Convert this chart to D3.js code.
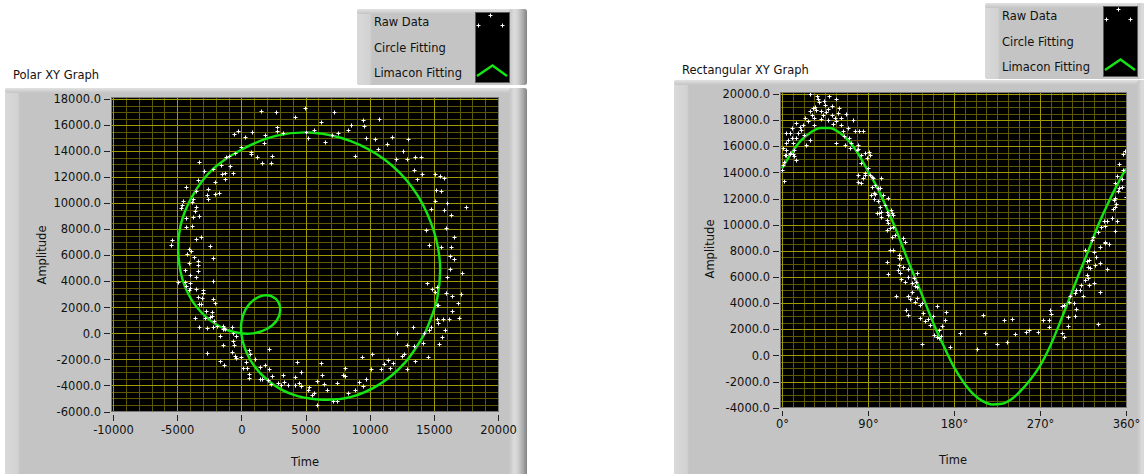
<!DOCTYPE html>
<html><head><meta charset="utf-8">
<script src="https://cdn.jsdelivr.net/npm/d3@7"></script>
<style>
html,body{margin:0;padding:0;background:#fff;}
svg{display:block;}
text{font-family:"DejaVu Sans",Verdana,sans-serif;font-size:11.5px;fill:#111;}
</style></head><body>
<svg id="chart" width="1144" height="474"></svg>
<script>
// Raw data (angle in degrees, amplitude)
const rawAngle = [
 29,37,49,57,39,45,32,29,41,48,52,59,67,24,34,41,48,57,62,74,15,22,27,10,8,4,17,20,62,69,76,81,85,64,10,15,29,4,11,1,4,8,13,15,3,1,0,2,66,71,72,78,80,83,87,89,83,90,80,85,92,95,104,97,100,93,100,111,99,104,114,111,57,2,4,8,12,13,80,80,92,91,87,96,
 35,43,52,46,55,31,44,36,53,65,70,23,6,25,19,33,38,60,
 87,94,83,94,103,97,106,96,103,108,101,110,115,104,110,116,111,110,113,116,115,118,127,129,113,116,122,122,125,110,122,127,132,121,141,111,123,132,125,129,138,136,139,136,119,132,134,141,144,146,162,172,132,144,153,158,171,150,155,167,164,186,159,166,147,176,
 140,141,139,130,148,164,162,
 210,212,204,225,235,232,241,244,255,258,
 268,273,279,280,281,279,293,295,293,295,299,299,300,301,306,307,308,307,308,312,315,313,317,320,321,327,333,331,319,320,322,319,321,328,333,340,317,327,329,333,338,342,338,324,325,331,334,338,337,340,345,351,349,346,348,350,347,349,352,353,356,348,351,356,357,353,360,357,359
];
const rawAmplitude = [
 20000,19820,19820,19640,19390,19180,18930,18680,18680,18880,18420,18550,18470,18160,18160,18110,18030,17900,18160,18030,17780,17650,17900,17400,17010,17010,17010,17270,17650,17400,17140,17200,17140,17140,16630,16630,16450,16250,16250,15870,15740,15490,15230,14980,15360,14590,14200,13370,16120,15870,16250,15740,16120,15360,15490,15100,14720,14330,13830,13570,13830,13570,13570,13060,12810,12300,11790,12040,10900,10980,11160,10770,16250,14800,15300,15430,15430,15680,15800,13300,15300,15560,13810,12400,
 19000,18400,19100,18600,18200,18400,19500,18750,17700,16800,16600,16900,16500,16100,17500,17600,19650,18900,
 13930,13670,13170,12910,12780,12350,12270,11940,11380,11510,10870,10990,10870,10610,10360,10740,10100,9590,9720,9840,9080,9210,8960,8700,8060,8060,7680,7420,7420,7170,6910,6730,6580,6520,6330,6230,6270,5990,5860,5600,5900,5530,5280,4890,4570,4510,4300,4380,3870,4000,3800,3350,3100,2840,2770,3050,2710,2650,2330,2260,1950,1690,1560,1480,870,670,
 5640,5260,4110,3470,3270,1300,1430,
 3090,1690,470,870,1050,2720,2820,1620,1820,1950,
 1810,2700,2700,3470,3160,2190,1680,1430,3780,3850,2950,2240,4110,4540,4030,3000,3520,4750,5000,5000,4570,5380,5770,5890,5380,5510,4880,2430,6150,6790,6660,7250,7300,6920,7050,6590,8070,7940,7560,8330,8580,8530,8710,8840,9090,9480,9860,9910,10320,10320,10500,10320,9550,11180,11330,11580,11890,12020,12610,12790,12920,13170,13690,13480,14200,14660,12100,15400,15660
];
// Limacon fit, read every 10 degrees from the green curve
const fitAngle = [0,10,20,30,40,50,60,70,80,90,100,110,120,130,140,150,160,170,180,190,200,210,220,230,240,250,260,270,280,290,300,310,320,330,340,350,360];
const fitAmplitude = [14300,15500,16450,17050,17400,17400,17050,16400,15400,14100,12800,11200,9500,7600,5800,4000,2200,600,-900,-2050,-2950,-3500,-3750,-3700,-3350,-2700,-1850,-800,600,2350,4200,6100,7900,9800,11450,12950,14300];

const polarXTicks = [-10000,-5000,0,5000,10000,15000,20000];
const polarYTicks = [-6000,-4000,-2000,0,2000,4000,6000,8000,10000,12000,14000,16000,18000];
const rectXTicks = [0,90,180,270,360];
const rectYTicks = [-4000,-2000,0,2000,4000,6000,8000,10000,12000,14000,16000,18000,20000];
const legendLabels = ["Raw Data","Circle Fitting","Limacon Fitting"];

const svg = d3.select("#chart");
const defs = svg.append("defs");
function grad(id, horiz, stops){
  const g = defs.append("linearGradient").attr("id",id)
    .attr("x1",0).attr("y1",0).attr("x2",horiz?1:0).attr("y2",horiz?0:1);
  stops.forEach(s=>g.append("stop").attr("offset",s[0]).attr("stop-color",s[1]));
}
grad("gLeft",true,[[0,"#d9d9d9"],[0.85,"#d2d2d2"],[1,"#c4c4c4"]]);
grad("gTop",false,[[0,"#e2e2e2"],[1,"#c4c4c4"]]);
grad("gRight",true,[[0,"#c4c4c4"],[0.3,"#dcdcdc"],[0.5,"#d0d0d0"],[0.8,"#a6a6a6"],[1,"#828282"]]);

function panel(x,y,w,h){
  const g = svg.append("g");
  g.append("rect").attr("x",x).attr("y",y).attr("width",w).attr("height",h).attr("rx",3).attr("fill","#c4c4c4");
  g.append("rect").attr("x",x).attr("y",y).attr("width",15).attr("height",h).attr("rx",3).attr("fill","url(#gLeft)");
  g.append("rect").attr("x",x).attr("y",y).attr("width",w).attr("height",5).attr("rx",3).attr("fill","url(#gTop)");
  g.append("rect").attr("x",x+w-18).attr("y",y).attr("width",18).attr("height",h).attr("rx",3).attr("fill","url(#gRight)");
}

function plusPath(x,y){
  x=Math.round(x); y=Math.round(y);
  return `M${x-1},${y}h3v1h-3zM${x},${y-1}h1v3h-1z`;
}
function haloPath(x,y){
  x=Math.round(x); y=Math.round(y);
  return `M${x-2},${y}h1v1h-1zM${x+2},${y}h1v1h-1zM${x},${y-2}h1v1h-1zM${x},${y+2}h1v1h-1z`;
}

function legend(px,py){
  panel(px,py,170,76);
  const bx = px+118, by = py+3;
  svg.append("rect").attr("x",bx+0.5).attr("y",by+0.5).attr("width",34).attr("height",70)
    .attr("fill","#000").attr("stroke","#5a5a5a");
  legendLabels.forEach((t,i)=>{
    svg.append("text").attr("x",px+17).attr("y",by+[10,36,61][i]).attr("dy","0.35em").text(t);
  });
  const pts=[[15,3],[3,13],[27,13]];
  svg.append("path").attr("fill","#7a7a7a")
    .attr("d",pts.map(p=>haloPath(bx+p[0],by+p[1])).join(""));
  svg.append("path").attr("fill","#fff")
    .attr("d",pts.map(p=>plusPath(bx+p[0],by+p[1])).join(""));
  svg.append("path").attr("fill","none").attr("stroke","#13e613").attr("stroke-width",2.4)
    .attr("d",`M${bx+2},${by+64}L${bx+17.5},${by+53.5}L${bx+32},${by+64}`);
}

function graph(cfg){
  const {plot, x, y, xMinor, yMinor, xTicks, yTicks, xFmt, yFmt, pts, line, curve, id} = cfg;
  const g = svg.append("g");
  g.append("rect").attr("x",plot[0]).attr("y",plot[1]).attr("width",plot[2]-plot[0]).attr("height",plot[3]-plot[1]).attr("fill","#000");
  const clip = defs.append("clipPath").attr("id",id);
  clip.append("rect").attr("x",plot[0]).attr("y",plot[1]).attr("width",plot[2]-plot[0]).attr("height",plot[3]-plot[1]);
  const cg = g.append("g").attr("clip-path",`url(#${id})`);
  const px = v=>Math.round(x(v))+0.5, py=v=>Math.round(y(v))+0.5;
  const grid = cg.append("g").attr("shape-rendering","crispEdges");
  const minorC = "#5c5900", majorC = "#a09b00";
  grid.selectAll(".xm").data(xMinor).join("line").attr("x1",px).attr("x2",px).attr("y1",plot[1]).attr("y2",plot[3]).attr("stroke",minorC);
  grid.selectAll(".ym").data(yMinor).join("line").attr("y1",py).attr("y2",py).attr("x1",plot[0]).attr("x2",plot[2]).attr("stroke",minorC);
  grid.selectAll(".xM").data(xTicks).join("line").attr("x1",px).attr("x2",px).attr("y1",plot[1]).attr("y2",plot[3]).attr("stroke",majorC);
  grid.selectAll(".yM").data(yTicks).join("line").attr("y1",py).attr("y2",py).attr("x1",plot[0]).attr("x2",plot[2]).attr("stroke",majorC);
  cg.append("path").datum(line).attr("fill","none").attr("stroke","#13e613").attr("stroke-width",2.4)
    .attr("stroke-linejoin","round")
    .attr("d",d3.line().x(d=>x(d[0])).y(d=>y(d[1])).curve(curve));
  cg.append("path").attr("fill","#8a8a8a").attr("d",pts.map(d=>haloPath(x(d[0]),y(d[1]))).join(""));
  cg.append("path").attr("fill","#fff").attr("d",pts.map(d=>plusPath(x(d[0]),y(d[1]))).join(""));
  g.append("rect").attr("x",plot[0]+0.5).attr("y",plot[1]+0.5).attr("width",plot[2]-plot[0]-1).attr("height",plot[3]-plot[1]-1)
    .attr("fill","none").attr("stroke","#7a7a7a").attr("shape-rendering","crispEdges");
  const ya = g.append("g").attr("transform",`translate(${plot[0]-1},0)`)
    .call(d3.axisLeft(y).tickValues(yTicks).tickSize(6).tickPadding(3).tickFormat(yFmt));
  const xa = g.append("g").attr("transform",`translate(0,${plot[3]+cfg.xOff})`)
    .call(d3.axisBottom(x).tickValues(xTicks).tickSize(cfg.xTick).tickPadding(cfg.xPad).tickFormat(xFmt));
  [ya,xa].forEach(a=>{
    a.select(".domain").remove();
    a.selectAll(".tick line").attr("stroke","#222").attr("shape-rendering","crispEdges");
    a.selectAll(".tick text").attr("fill","#111").style("font-family",'"DejaVu Sans",Verdana,sans-serif').style("font-size","11.5px");
  });
  g.append("text").attr("transform",`translate(${cfg.ylab[0]},${cfg.ylab[1]}) rotate(-90)`).attr("text-anchor","middle").attr("dy","0.35em").text("Amplitude");
  g.append("text").attr("x",cfg.xlab[0]).attr("y",cfg.xlab[1]).attr("text-anchor","middle").attr("dy","0.35em").text("Time");
}

// Panels and legends
svg.append("text").attr("x",13).attr("y",75).attr("dy","0.35em").text("Polar XY Graph");
legend(357,9);
panel(5,88,522,400);

svg.append("text").attr("x",682).attr("y",70).attr("dy","0.35em").text("Rectangular XY Graph");
legend(985,3);
panel(674,80,481,400);

const rad = Math.PI/180;
const rawRect = rawAngle.map((a,i)=>[a, rawAmplitude[i]]);
const fitRect = fitAngle.map((a,i)=>[a, fitAmplitude[i]]);
const rawPolar = rawRect.map(d=>[d[1]*Math.cos(d[0]*rad), d[1]*Math.sin(d[0]*rad)]);
const fitPolar = fitRect.map(d=>[d[1]*Math.cos(d[0]*rad), d[1]*Math.sin(d[0]*rad)]);

graph({
  id:"clipPolar",
  plot:[111,97,499,412],
  x:d3.scaleLinear().domain([-10000,20000]).range([113,498]),
  y:d3.scaleLinear().domain([-6000,18000]).range([411.5,99]),
  xMinor:d3.range(-10000,20001,1000), yMinor:d3.range(-6000,18001,500),
  xTicks:polarXTicks, yTicks:polarYTicks,
  xFmt:d=>String(d), yFmt:d=>d.toFixed(1),
  pts:rawPolar, line:fitPolar, curve:d3.curveCatmullRom.alpha(0.5),
  xOff:3, xTick:6, xPad:5,
  ylab:[42,255], xlab:[305,462]
});

graph({
  id:"clipRect",
  plot:[780,92,1127,408],
  x:d3.scaleLinear().domain([0,360]).range([782,1126]),
  y:d3.scaleLinear().domain([-4000,20000]).range([407.7,94]),
  xMinor:d3.range(0,361,11.25), yMinor:d3.range(-4000,20001,500),
  xTicks:rectXTicks, yTicks:rectYTicks,
  xFmt:d=>d+"°", yFmt:d=>d.toFixed(1),
  pts:rawRect, line:fitRect, curve:d3.curveMonotoneX,
  xOff:3, xTick:5, xPad:4,
  ylab:[710,249], xlab:[953,460]
});
</script>
</body></html>
